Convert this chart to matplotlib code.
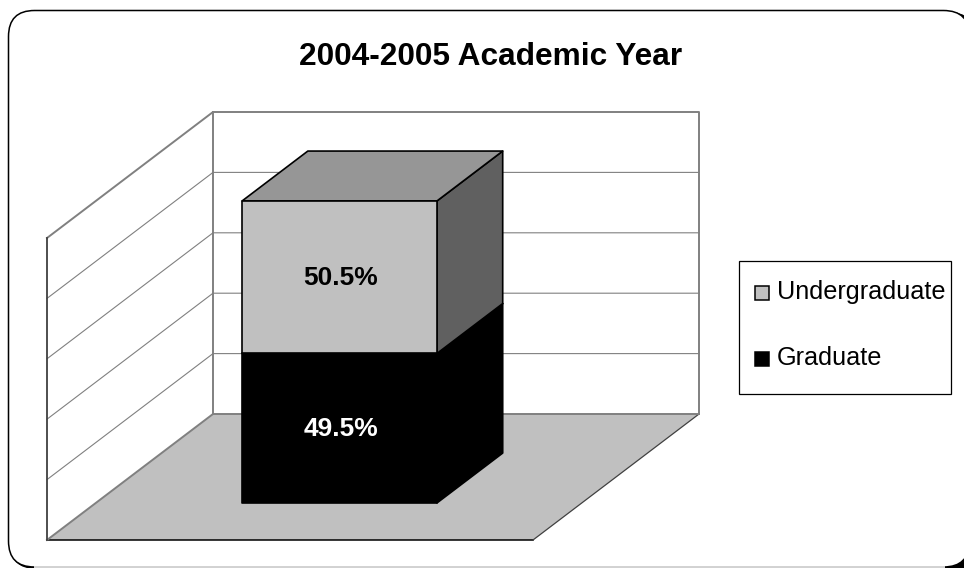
import matplotlib
matplotlib.use("Agg")
import matplotlib.pyplot as plt
from matplotlib.patches import Polygon, FancyBboxPatch, Rectangle

plt.rcParams['font.family'] = ['Liberation Sans', 'DejaVu Sans']

title = "2004-2005 Academic Year"
series = ["Graduate", "Undergraduate"]
values = [49.5, 50.5]
labels = ["49.5%", "50.5%"]
grid_values = [20, 40, 60, 80]

front_colors = ["#000000", "#c0c0c0"]
top_colors = ["#000000", "#969696"]
side_colors = ["#000000", "#606060"]

# fake 3d box, all in pixels of the picture
X0, Y0 = 47, 540
W = 486
DX, DY = 166, -126
H = 302
BAR_X = (0.301, 0.702)
BAR_D = (0.294, 0.69)


def proj(x, d, v):
    return (X0 + W * x + DX * d, Y0 + DY * d - H * v / 100)


fig = plt.figure(figsize=(9.64, 5.68), dpi=100)
ax = fig.add_axes([0, 0, 1, 1])
ax.set_xlim(0, 964)
ax.set_ylim(568, 0)
ax.axis("off")

# shadow in the corner and the rounded frame, right side runs off the picture
ax.add_patch(Rectangle((935, 540), 40, 40, fc="black", ec="none", zorder=0))
ax.add_patch(FancyBboxPatch((10, 12), 965, 557, boxstyle="round,pad=0,rounding_size=26",
                            fc="black", ec="none", zorder=0))
ax.add_patch(FancyBboxPatch((8.5, 10.5), 961, 556.5, boxstyle="round,pad=0,rounding_size=26",
                            fc="white", ec="black", lw=1.1, zorder=1))
ax.plot([34, 945], [567.3, 567.3], color="#d8d8d8", lw=1.4, zorder=1.5, solid_capstyle="butt")

gray = "#808080"
# floor and walls
ax.add_patch(Polygon([proj(0, 0, 0), proj(1, 0, 0), proj(1, 1, 0), proj(0, 1, 0)],
                     fc="#c0c0c0", ec="none", zorder=2))
ax.plot(*zip(proj(0, 0, 0), proj(1, 0, 0)), color="black", lw=1.1, zorder=3)
ax.plot(*zip(proj(1, 0, 0), proj(1, 1, 0)), color="#404040", lw=0.9, zorder=3)
ax.plot(*zip(proj(0, 0, 0), proj(0, 1, 0), proj(1, 1, 0)), color=gray, lw=1.4, zorder=3)
ax.plot(*zip(proj(0, 0, 100), proj(0, 1, 100), proj(1, 1, 100), proj(1, 1, 0)), color=gray, lw=1.4, zorder=3)
ax.plot(*zip(proj(0, 1, 100), proj(0, 1, 0)), color=gray, lw=1.4, zorder=3)
ax.plot(*zip(proj(0, 0, 0), proj(0, 0, 100)), color="#404040", lw=1.3, zorder=3)
for g in grid_values:
    ax.plot(*zip(proj(0, 0, g), proj(0, 1, g), proj(1, 1, g)), color=gray, lw=0.8, zorder=2.5)

# stacked box
x0, x1 = BAR_X
d0, d1 = BAR_D
base = 0
for val, lab, fc, tc, sc in zip(values, labels, front_colors, top_colors, side_colors):
    top = base + val
    ax.add_patch(Polygon([proj(x1, d0, base), proj(x1, d1, base), proj(x1, d1, top), proj(x1, d0, top)],
                         fc=sc, ec="black", lw=1.2, joinstyle="round", zorder=4))
    ax.add_patch(Polygon([proj(x0, d0, top), proj(x1, d0, top), proj(x1, d1, top), proj(x0, d1, top)],
                         fc=tc, ec="black", lw=1.2, joinstyle="round", zorder=4))
    ax.add_patch(Polygon([proj(x0, d0, base), proj(x1, d0, base), proj(x1, d0, top), proj(x0, d0, top)],
                         fc=fc, ec="black", lw=1.2, joinstyle="round", zorder=5))
    cx, cy = proj((x0 + x1) / 2, d0, base + val / 2)
    ax.text(cx + 1, cy + 1, lab, ha="center", va="center", fontsize=19, fontweight="bold",
            color="white" if fc == "#000000" else "black", zorder=6)
    base = top

ax.text(490.5, 57, title, ha="center", va="center", fontsize=22.8, fontweight="bold", zorder=6)

# legend
ax.add_patch(Rectangle((739, 261), 212, 133, fc="white", ec="black", lw=0.9, zorder=4))
for name, fc, y in zip(series[::-1], front_colors[::-1], [293, 359]):
    ax.add_patch(Rectangle((754.5, y - 7.5), 14.5, 14.5, fc=fc, ec="black", lw=1.1, zorder=5))
    ax.text(777, y - 1, name, ha="left", va="center", fontsize=18.2, zorder=5)

fig.savefig("out.png", dpi=100)
